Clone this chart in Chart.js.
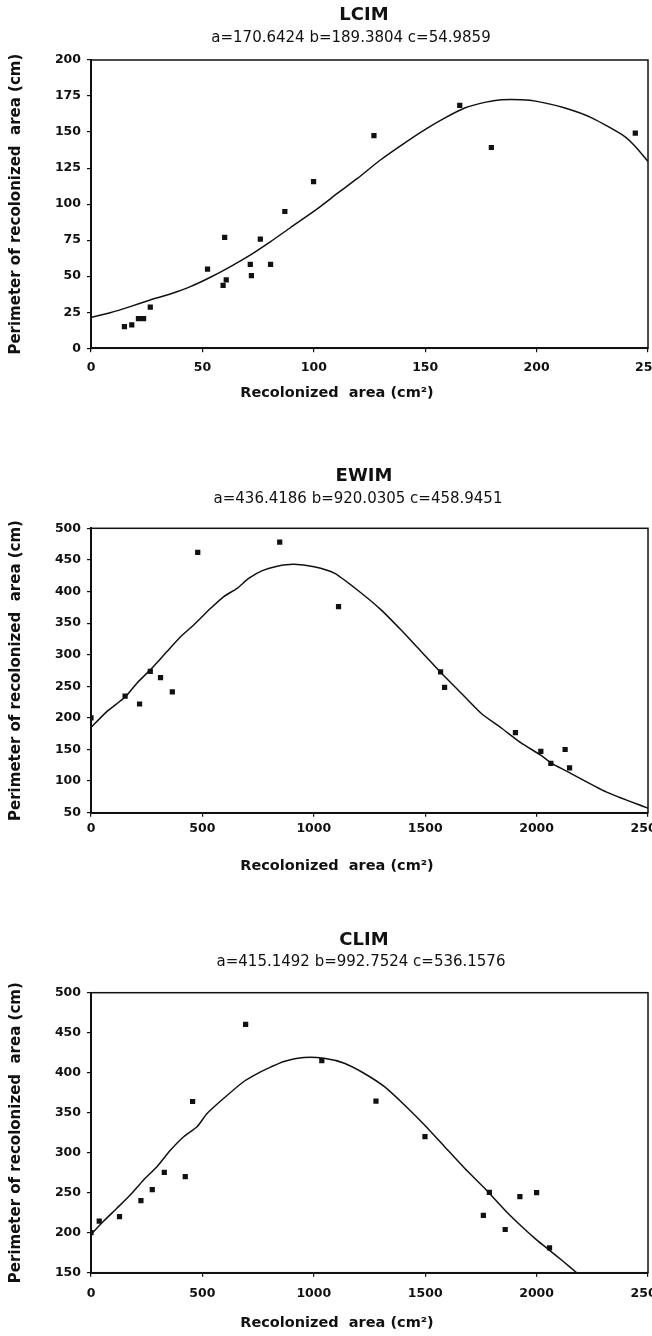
<!DOCTYPE html>
<html>
<head>
<meta charset="utf-8">
<script src="https://cdn.jsdelivr.net/npm/chart.js@4.4.1/dist/chart.umd.min.js"></script>
<style>
  html, body { margin: 0; padding: 0; background: #fff; }
  body { width: 652px; height: 1336px; overflow: hidden; position: relative; }
  .panel { position: absolute; left: 0; }
</style>
</head>
<body>
<div class="panel" style="top:0px"><canvas id="lcim" width="726" height="420"></canvas></div>
<div class="panel" style="top:420px"><canvas id="ewim" width="726" height="460"></canvas></div>
<div class="panel" style="top:880px"><canvas id="clim" width="726" height="456"></canvas></div>
<script>
// LCIM
const lcimArea = [15, 18.3, 21.3, 23.6, 26.6, 52.3, 59.3, 60.7, 60, 71.5, 72, 76, 80.6, 87, 99.9, 127, 165.5, 179.7, 244.3]
const lcimPerimeter = [15, 16.2, 20.6, 20.6, 28.5, 55, 43.7, 47.4, 77, 58.3, 50.4, 75.7, 58.3, 94.9, 115.7, 147.6, 168.5, 139.3, 149.3]
const lcimFitArea = [0, 8.6, 17.6, 26.6, 35.6, 44.6, 53.6, 62.6, 71.6, 80.6, 89.6, 100.9, 110.7, 119.7, 130, 140.7, 149.7, 158.7, 167.7, 176.7, 184.2, 193.2, 200.2, 212, 225, 239.6, 244.3, 250]
const lcimFitPerimeter = [21.5, 24.7, 28.9, 33.5, 37.7, 42.8, 49.3, 56.7, 64.8, 74, 83.8, 96, 107.6, 118, 130.8, 142.4, 151.6, 159.7, 166.7, 170.6, 172.4, 172.4, 171.3, 167, 159.7, 146.9, 140, 129.6]
const lcimXTicks = [0, 50, 100, 150, 200, 250]
const lcimYTicks = [0, 25, 50, 75, 100, 125, 150, 175, 200]

// EWIM
const ewimArea = [0, 153, 218, 266, 312, 365, 479, 847, 1111, 1569, 1587, 1905, 2019, 2064, 2128, 2148]
const ewimPerimeter = [200, 234.6, 222, 273.7, 263.6, 241, 462, 478, 376, 273, 248.4, 176.6, 147, 128, 150, 121]
const ewimFitArea = [0, 71, 153, 206, 266, 341, 401, 461, 536, 596, 656, 709, 769, 836, 911, 1001, 1092, 1197, 1302, 1392, 1482, 1572, 1662, 1752, 1842, 1932, 2019, 2064, 2128, 2312, 2500]
const ewimFitPerimeter = [185, 210, 233, 255, 276, 305, 328, 347, 373, 392, 405, 421, 433, 440, 443, 439, 429, 402, 371, 339, 305, 271, 239, 207, 184, 160, 141, 129, 117, 83, 57]
const ewimXTicks = [0, 500, 1000, 1500, 2000, 2500]
const ewimYTicks = [50, 100, 150, 200, 250, 300, 350, 400, 450, 500]

// CLIM
const climArea = [0, 37, 128, 224, 275, 329, 423, 456, 694, 1036, 1279, 1499, 1761, 1788, 1859, 1925, 2000, 2058]
const climPerimeter = [200, 214.6, 220, 240, 253.8, 275.5, 270, 364, 460.5, 415, 364.6, 320, 221.7, 250.5, 204, 245, 250, 181]
const climFitArea = [0, 55, 116, 176, 236, 296, 356, 416, 476, 521, 596, 686, 761, 806, 866, 956, 1046, 1137, 1227, 1317, 1407, 1497, 1587, 1677, 1767, 1857, 1932, 2000, 2058, 2120, 2180]
const climFitPerimeter = [198, 214, 230.5, 247, 266, 282.5, 303, 320, 332.5, 349, 368, 389, 401, 407, 414, 419, 418, 411.8, 399, 382.5, 359.6, 334.6, 307.5, 280.5, 255.5, 228.4, 208, 191, 178, 164, 150]
const climXTicks = [0, 500, 1000, 1500, 2000, 2500]
const climYTicks = [150, 200, 250, 300, 350, 400, 450, 500]

const FONT = '"DejaVu Sans", sans-serif'
const INK = '#111'
Chart.defaults.font.family = FONT
Chart.defaults.color = INK

const zip = (xs, ys) => xs.map((x, i) => ({ x: x, y: ys[i] }))

// box round the plot area
const frame = {
  id: 'frame',
  afterDraw(chart) {
    const { ctx, chartArea } = chart
    ctx.save()
    ctx.strokeStyle = INK
    ctx.lineWidth = 1.5
    ctx.strokeRect(chartArea.left, chartArea.top, chartArea.width, chartArea.height)
    ctx.restore()
  }
}

// title, parameters line and x axis caption, placed like the scan
const captions = (items) => ({
  id: 'captions',
  afterDraw(chart) {
    const ctx = chart.ctx
    ctx.save()
    ctx.fillStyle = INK
    ctx.textAlign = 'center'
    ctx.textBaseline = 'middle'
    items.forEach(it => {
      ctx.font = it.font
      ctx.fillText(it.text, it.x, it.y)
    })
    ctx.restore()
  }
})

function makeChart(id, o) {
  const xt = o.xTicks, yt = o.yTicks
  return new Chart(document.getElementById(id), {
    type: 'scatter',
    data: {
      datasets: [
        {
          label: 'observed',
          data: zip(o.area, o.perimeter),
          pointStyle: 'rect',
          pointRadius: 3.7,
          pointBorderWidth: 0,
          backgroundColor: INK,
          borderColor: INK
        },
        {
          label: 'fit',
          data: zip(o.fitArea, o.fitPerimeter),
          showLine: true,
          pointRadius: 0,
          borderColor: INK,
          borderWidth: 1.5,
          tension: 0.2,
          fill: false
        }
      ]
    },
    options: {
      responsive: false,
      animation: false,
      layout: { padding: { top: o.top, right: 78, left: 0, bottom: 0 } },
      plugins: { legend: { display: false }, tooltip: { enabled: false } },
      scales: {
        x: {
          type: 'linear',
          min: xt[0],
          max: xt[xt.length - 1],
          afterFit(s) { s.height = o.xHeight },
          ticks: { stepSize: xt[1] - xt[0], padding: o.xPad, maxRotation: 0, color: INK,
            font: { size: 12.5, weight: 'bold' }, callback: v => String(v) },
          grid: { drawOnChartArea: false, drawTicks: true, tickLength: 4, color: INK, lineWidth: 1.2 },
          border: { color: INK, width: 2 }
        },
        y: {
          type: 'linear',
          min: yt[0],
          max: yt[yt.length - 1],
          afterFit(s) { s.width = 91 },
          ticks: { stepSize: yt[1] - yt[0], padding: 6, color: INK,
            font: { size: 12.5, weight: 'bold' }, callback: v => String(v) },
          grid: { drawOnChartArea: false, drawTicks: true, tickLength: 4, color: INK, lineWidth: 1.2 },
          border: { color: INK, width: 2 },
          title: { display: true, text: 'Perimeter of recolonized  area (cm)', color: INK,
            font: { size: 15, weight: 'bold' }, padding: { top: 7, bottom: 0 } }
        }
      }
    },
    plugins: [frame, captions([
      { text: o.name, x: 364, y: o.titleY, font: 'bold 18px ' + FONT },
      { text: o.params, x: o.paramsX, y: o.titleY + 22, font: '15px ' + FONT },
      { text: 'Recolonized  area (cm\u00B2)', x: 337, y: o.xTitleY, font: 'bold 14.5px ' + FONT }
    ])]
  })
}

makeChart('lcim', {
  name: 'LCIM', params: 'a=170.6424 b=189.3804 c=54.9859', paramsX: 351,
  area: lcimArea, perimeter: lcimPerimeter, fitArea: lcimFitArea, fitPerimeter: lcimFitPerimeter,
  xTicks: lcimXTicks, yTicks: lcimYTicks,
  top: 60, xHeight: 71.7, xPad: 7.9, titleY: 15.8, xTitleY: 393.5
})

makeChart('ewim', {
  name: 'EWIM', params: 'a=436.4186 b=920.0305 c=458.9451', paramsX: 358,
  area: ewimArea, perimeter: ewimPerimeter, fitArea: ewimFitArea, fitPerimeter: ewimFitPerimeter,
  xTicks: ewimXTicks, yTicks: ewimYTicks,
  top: 108.3, xHeight: 67.3, xPad: 4.1, titleY: 56.7, xTitleY: 446.7
})

makeChart('clim', {
  name: 'CLIM', params: 'a=415.1492 b=992.7524 c=536.1576', paramsX: 361,
  area: climArea, perimeter: climPerimeter, fitArea: climFitArea, fitPerimeter: climFitPerimeter,
  xTicks: climXTicks, yTicks: climYTicks,
  top: 112.7, xHeight: 63.3, xPad: 9.1, titleY: 60, xTitleY: 443.3
})
</script>
</body>
</html>
